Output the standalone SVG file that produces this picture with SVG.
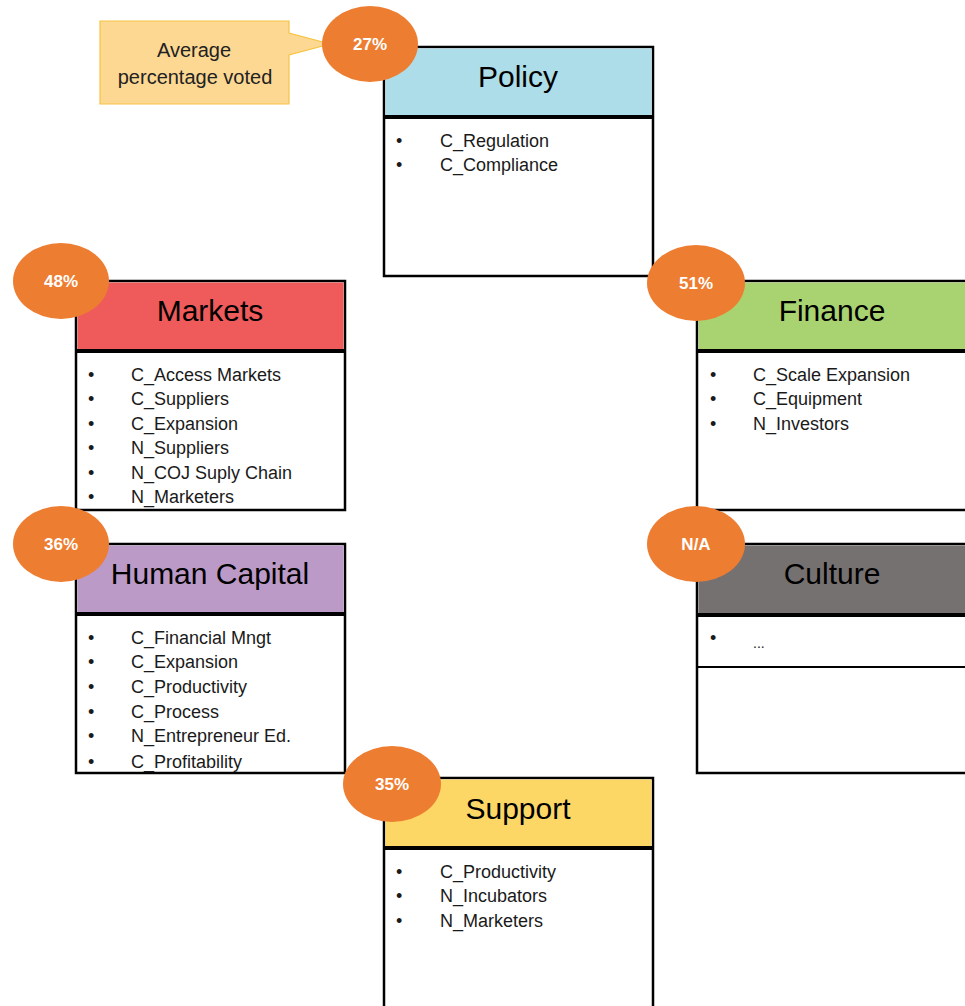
<svg xmlns="http://www.w3.org/2000/svg" width="965" height="1006" viewBox="0 0 965 1006">
<style>
.box{fill:#ffffff;stroke:#000;stroke-width:2.5}
.div{stroke:#000;stroke-width:4;fill:none}
.ln{stroke:#000;stroke-width:2;fill:none}
.title{font-family:"Liberation Sans",Arial,sans-serif;font-size:30px;fill:#000;text-anchor:middle}
.item{font-family:"Liberation Sans",Arial,sans-serif;font-size:18px;fill:#1a1a1a}
.badge{fill:#ED7D31}
.pct{font-family:"Liberation Sans",Arial,sans-serif;font-size:17px;font-weight:bold;fill:#fff;text-anchor:middle}
.call{font-family:"Liberation Sans",Arial,sans-serif;font-size:20px;fill:#222;text-anchor:middle}
</style>
<rect width="965" height="1006" fill="#fff"/>
<g id="connectors"></g>

<g id="callout">
<path d="M100,21 H289 V33 L330,44 L289,55 V104 H100 Z" fill="#FDD893" stroke="#F6C344" stroke-width="1.2"/>
<text class="call" x="194" y="57">Average</text>
<text class="call" x="195" y="84">percentage voted</text>
</g>

<g id="policy">
<rect class="box" x="384" y="47" width="269" height="229"/>
<rect x="385.5" y="48.5" width="266" height="68" fill="#ADDDE9"/>
<line class="div" x1="384" y1="117" x2="653" y2="117"/>
<text class="title" x="518" y="87">Policy</text>
<g class="item">
<text x="396" y="147">•</text><text x="440" y="147">C_Regulation</text>
<text x="396" y="171">•</text><text x="440" y="171">C_Compliance</text>
</g>
</g>

<g id="markets">
<rect class="box" x="76" y="281" width="269" height="229"/>
<rect x="77.5" y="282.5" width="266" height="68" fill="#EF5A5B"/>
<line class="div" x1="76" y1="351" x2="345" y2="351"/>
<text class="title" x="210" y="321">Markets</text>
<g class="item">
<text x="88" y="381">•</text><text x="131" y="381">C_Access Markets</text>
<text x="88" y="405">•</text><text x="131" y="405">C_Suppliers</text>
<text x="88" y="430">•</text><text x="131" y="430">C_Expansion</text>
<text x="88" y="454">•</text><text x="131" y="454">N_Suppliers</text>
<text x="88" y="479">•</text><text x="131" y="479">N_COJ Suply Chain</text>
<text x="88" y="503">•</text><text x="131" y="503">N_Marketers</text>
</g>
</g>

<g id="finance">
<rect class="box" x="697" y="281" width="280" height="229"/>
<rect x="698.5" y="282.5" width="280" height="68" fill="#A9D271"/>
<line class="div" x1="697" y1="351" x2="977" y2="351"/>
<text class="title" x="832" y="321">Finance</text>
<g class="item">
<text x="710" y="381">•</text><text x="753" y="381">C_Scale Expansion</text>
<text x="710" y="405">•</text><text x="753" y="405">C_Equipment</text>
<text x="710" y="430">•</text><text x="753" y="430">N_Investors</text>
</g>
</g>

<g id="human-capital">
<rect class="box" x="76" y="544" width="269" height="229"/>
<rect x="77.5" y="545.5" width="266" height="68" fill="#BC9AC8"/>
<line class="div" x1="76" y1="614" x2="345" y2="614"/>
<text class="title" x="210" y="584">Human Capital</text>
<g class="item">
<text x="88" y="644">•</text><text x="131" y="644">C_Financial Mngt</text>
<text x="88" y="668">•</text><text x="131" y="668">C_Expansion</text>
<text x="88" y="693">•</text><text x="131" y="693">C_Productivity</text>
<text x="88" y="718">•</text><text x="131" y="718">C_Process</text>
<text x="88" y="742">•</text><text x="131" y="742">N_Entrepreneur Ed.</text>
<text x="88" y="768">•</text><text x="131" y="768">C_Profitability</text>
</g>
</g>

<g id="culture">
<rect class="box" x="697" y="544" width="280" height="229"/>
<rect x="698.5" y="545.5" width="280" height="68" fill="#767171"/>
<line class="div" x1="697" y1="615" x2="977" y2="615"/>
<line class="ln" x1="697" y1="667" x2="977" y2="667"/>
<text class="title" x="832" y="584">Culture</text>
<g class="item">
<text x="710" y="644">•</text><text x="753" y="648" style="font-size:14px">...</text>
</g>
</g>

<g id="support">
<rect class="box" x="384" y="778" width="269" height="240"/>
<rect x="385.5" y="779.5" width="266" height="68" fill="#FDD766"/>
<line class="div" x1="384" y1="848" x2="653" y2="848"/>
<text class="title" x="518" y="819">Support</text>
<g class="item">
<text x="396" y="878">•</text><text x="440" y="878">C_Productivity</text>
<text x="396" y="902">•</text><text x="440" y="902">N_Incubators</text>
<text x="396" y="927">•</text><text x="440" y="927">N_Marketers</text>
</g>
</g>

<g id="badge-policy"><ellipse class="badge" cx="370" cy="44" rx="48" ry="38"/><text class="pct" x="370" y="50">27%</text></g>
<g id="badge-markets"><ellipse class="badge" cx="61" cy="281" rx="48" ry="38"/><text class="pct" x="61" y="287">48%</text></g>
<g id="badge-finance"><ellipse class="badge" cx="696" cy="283" rx="49" ry="38"/><text class="pct" x="696" y="289">51%</text></g>
<g id="badge-human-capital"><ellipse class="badge" cx="61" cy="544" rx="48" ry="38"/><text class="pct" x="61" y="550">36%</text></g>
<g id="badge-culture"><ellipse class="badge" cx="696" cy="544" rx="49" ry="38"/><text class="pct" x="696" y="550">N/A</text></g>
<g id="badge-support"><ellipse class="badge" cx="392" cy="784" rx="49" ry="38"/><text class="pct" x="392" y="790">35%</text></g>
</svg>
